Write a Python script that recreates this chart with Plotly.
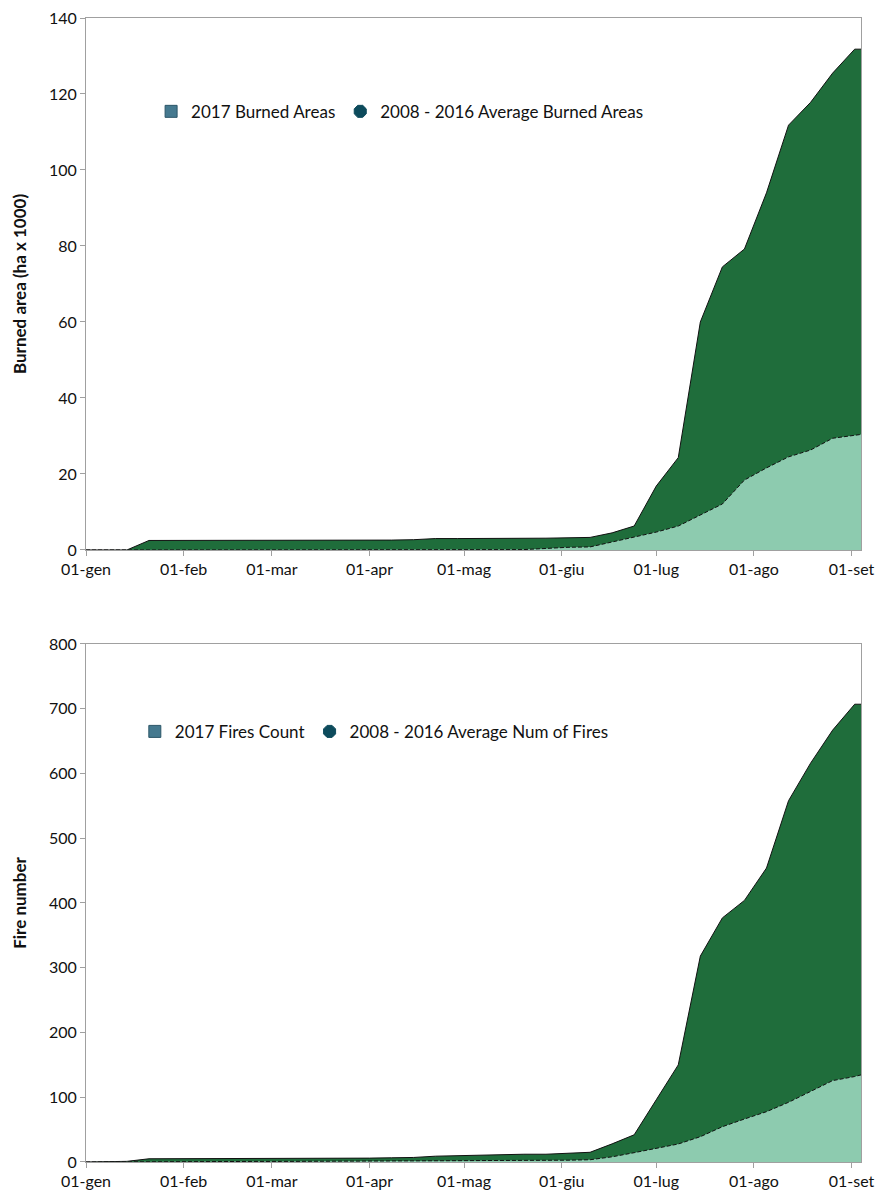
"""Cumulative burned area and fire count, 2017 vs 2008-2016 average."""

import plotly.graph_objects as go

# weekly sampling dates (Saturdays) plus the start/end of the period
DATES = [
    "2017-01-01", "2017-01-07", "2017-01-14", "2017-01-21", "2017-01-28",
    "2017-02-04", "2017-02-11", "2017-02-18", "2017-02-25",
    "2017-03-04", "2017-03-11", "2017-03-18", "2017-03-25",
    "2017-04-01", "2017-04-08", "2017-04-15", "2017-04-22", "2017-04-29",
    "2017-05-06", "2017-05-13", "2017-05-20", "2017-05-27",
    "2017-06-03", "2017-06-10", "2017-06-17", "2017-06-24",
    "2017-07-01", "2017-07-08", "2017-07-15", "2017-07-22", "2017-07-29",
    "2017-08-05", "2017-08-12", "2017-08-19", "2017-08-26",
    "2017-09-02", "2017-09-04",
]

# burned area, ha x 1000
AREA_2017 = [
    0, 0, 0, 2.5, 2.5,
    2.5, 2.5, 2.5, 2.5,
    2.5, 2.5, 2.5, 2.5,
    2.6, 2.6, 2.7, 3.0, 3.0,
    3.0, 3.0, 3.1, 3.1,
    3.2, 3.3, 4.5, 6.3,
    16.8, 24.3, 60.0, 74.5, 79.2,
    94.0, 111.8, 117.8, 125.5,
    131.8, 131.8,
]
AREA_AVG = [
    0, 0, 0, 0, 0,
    0, 0, 0, 0,
    0, 0, 0, 0,
    0, 0, 0, 0, 0,
    0, 0, 0.1, 0.4,
    0.7, 0.8, 2.1, 3.2,
    4.7, 6.3, 9.2, 12.1, 18.4,
    21.6, 24.5, 26.3, 29.4,
    30.2, 30.4,
]

# number of fires
FIRES_2017 = [
    0, 0.5, 1, 5, 5,
    5, 5, 5, 5,
    5, 5, 5.5, 6,
    6, 6.5, 7, 9, 10,
    10, 11, 12, 12,
    13, 15, 28, 42,
    96, 150, 318, 377, 404,
    454, 558, 616, 667,
    707, 707,
]
FIRES_AVG = [
    0, 0.2, 0.4, 0.5, 0.6,
    0.7, 0.8, 0.8, 0.9,
    0.9, 1.0, 1.0, 1.1,
    1.1, 1.2, 1.2, 1.3, 1.4,
    1.5, 1.7, 2.0, 2.3,
    2.8, 3.5, 8.0, 14.4,
    20.6, 27.8, 39.1, 54.5, 66.4,
    77.7, 92.2, 108.7, 125.7,
    132.0, 134.5,
]

MONTH_TICKS = [
    "2017-01-01", "2017-02-01", "2017-03-01", "2017-04-01", "2017-05-01",
    "2017-06-01", "2017-07-01", "2017-08-01", "2017-09-01",
]
MONTH_LABELS = [
    "01-gen", "01-feb", "01-mar", "01-apr", "01-mag",
    "01-giu", "01-lug", "01-ago", "01-set",
]

DARK_GREEN = "#1f6d3b"
LIGHT_GREEN = "#8dcbaf"
LEGEND_BLUE = "#45798f"
LEGEND_TEAL = "#0d4b5c"
AXIS_GREY = "#a0a0a0"
FONT = "Lato, 'Open Sans', sans-serif"

fig = go.Figure()


def add_panel(y2017, yavg, xaxis, yaxis, legend, name2017, nameavg):
    fig.add_trace(go.Scatter(
        x=DATES, y=y2017, mode="lines", fill="tozeroy",
        fillcolor=DARK_GREEN, line=dict(color="#111111", width=1),
        xaxis=xaxis, yaxis=yaxis, showlegend=False, hoverinfo="skip",
    ))
    fig.add_trace(go.Scatter(
        x=DATES, y=yavg, mode="lines", fill="tozeroy",
        fillcolor=LIGHT_GREEN, line=dict(color="#111111", width=1, dash="4px,2px"),
        xaxis=xaxis, yaxis=yaxis, showlegend=False, hoverinfo="skip",
    ))
    # legend-only entries (Excel legend swatches)
    fig.add_trace(go.Scatter(
        x=[None], y=[None], mode="markers", name=name2017,
        marker=dict(symbol="square", size=12, color=LEGEND_BLUE,
                    line=dict(color="#2c5668", width=1)),
        xaxis=xaxis, yaxis=yaxis, legend=legend,
    ))
    fig.add_trace(go.Scatter(
        x=[None], y=[None], mode="markers", name=nameavg,
        marker=dict(symbol="octagon", size=13, color=LEGEND_TEAL,
                    line=dict(color=LEGEND_TEAL, width=1)),
        xaxis=xaxis, yaxis=yaxis, legend=legend,
    ))


add_panel(AREA_2017, AREA_AVG, "x", "y", "legend",
          "2017 Burned Areas", "2008 - 2016 Average Burned Areas")
add_panel(FIRES_2017, FIRES_AVG, "x2", "y2", "legend2",
          "2017 Fires Count", "2008 - 2016 Average Num of Fires")

xaxis_common = dict(
    type="date",
    range=["2017-01-01", "2017-09-04"],
    tickmode="array",
    tickvals=MONTH_TICKS,
    ticktext=MONTH_LABELS,
    ticks="outside", ticklen=5, tickcolor=AXIS_GREY,
    showgrid=False, zeroline=False,
    showline=True, linecolor=AXIS_GREY, linewidth=1, mirror=True,
    tickfont=dict(size=16, color="#111111"),
    automargin=False,
)
yaxis_common = dict(
    ticks="outside", ticklen=5, tickcolor=AXIS_GREY,
    showgrid=False, zeroline=False,
    showline=True, linecolor=AXIS_GREY, linewidth=1, mirror=True,
    tickfont=dict(size=16, color="#111111"),
    title_font=dict(size=17, color="#111111", weight="bold"),
    title_standoff=17,
    automargin=False,
)

fig.update_layout(
    width=882,
    height=1201,
    paper_bgcolor="white",
    plot_bgcolor="white",
    font=dict(family=FONT, color="#111111"),
    margin=dict(l=86, r=21, t=18, b=39),
    xaxis=dict(**xaxis_common, domain=[0, 1], anchor="y"),
    yaxis=dict(**yaxis_common, domain=[0.535, 1], range=[0, 140], dtick=20,
               title_text="Burned area (ha x 1000)", anchor="x"),
    xaxis2=dict(**xaxis_common, domain=[0, 1], anchor="y2"),
    yaxis2=dict(**yaxis_common, domain=[0, 0.4528], range=[0, 800], dtick=100,
                title_text="Fire number", anchor="x2"),
    legend=dict(orientation="h", x=0.084, y=0.918, xanchor="left", yanchor="middle",
                font=dict(size=17), bgcolor="rgba(0,0,0,0)", itemwidth=30),
    legend2=dict(orientation="h", x=0.063, y=0.376, xanchor="left", yanchor="middle",
                 font=dict(size=17), bgcolor="rgba(0,0,0,0)", itemwidth=30),
)

# drop the browser's default body margin so the figure sits at the page origin
fig.write_html(
    "out.html",
    config={"displayModeBar": False},
    post_script="document.body.style.margin = '0';",
)
